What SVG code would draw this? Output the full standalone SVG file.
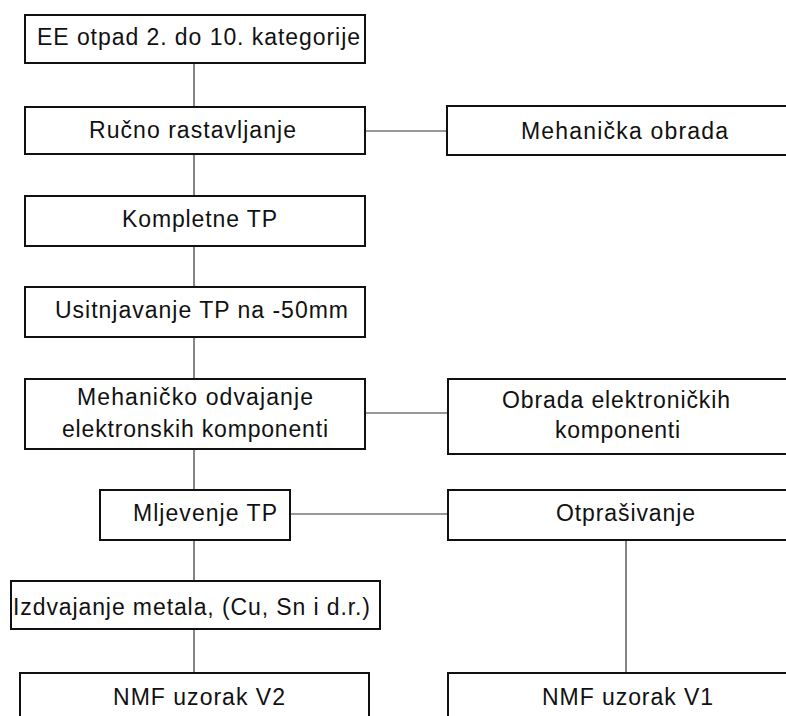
<svg xmlns="http://www.w3.org/2000/svg" width="786" height="716" viewBox="0 0 786 716">
<style>
.box{fill:#fff;stroke:#111;stroke-width:2}
.lbl{font-family:"Liberation Sans",Arial,sans-serif;font-size:23px;fill:#111}
.con{stroke:#333;stroke-width:1.2;fill:none}
</style>
<rect width="786" height="716" fill="#fff"/>
<g id="connectors">
<line class="con" x1="194" y1="63" x2="194" y2="107"/>
<line class="con" x1="365" y1="131" x2="447" y2="131"/>
<line class="con" x1="194" y1="154" x2="194" y2="196"/>
<line class="con" x1="194" y1="246" x2="194" y2="287"/>
<line class="con" x1="194" y1="337" x2="194" y2="379"/>
<line class="con" x1="365" y1="413" x2="448" y2="413"/>
<line class="con" x1="194" y1="449" x2="194" y2="490"/>
<line class="con" x1="290" y1="514" x2="448" y2="514"/>
<line class="con" x1="194" y1="540" x2="194" y2="581"/>
<line class="con" x1="194" y1="629" x2="194" y2="673"/>
<line class="con" x1="626" y1="540" x2="626" y2="673"/>
</g>
<g id="n1"><rect class="box" x="25" y="15" width="340" height="48"/><text class="lbl" x="37" y="45" textLength="323" lengthAdjust="spacing">EE otpad 2. do 10. kategorije</text></g>
<g id="n2"><rect class="box" x="25" y="107" width="340" height="47"/><text class="lbl" x="89" y="138" textLength="207" lengthAdjust="spacing">Ručno rastavljanje</text></g>
<g id="n3"><rect class="box" x="447" y="106" width="360" height="49"/><text class="lbl" x="521" y="139" textLength="207" lengthAdjust="spacing">Mehanička obrada</text></g>
<g id="n4"><rect class="box" x="25" y="196" width="340" height="50"/><text class="lbl" x="122" y="227" textLength="155" lengthAdjust="spacing">Kompletne TP</text></g>
<g id="n5"><rect class="box" x="25" y="287" width="340" height="50"/><text class="lbl" x="55" y="318" textLength="293" lengthAdjust="spacing">Usitnjavanje TP na -50mm</text></g>
<g id="n6"><rect class="box" x="25" y="379" width="340" height="70"/><text class="lbl" x="77" y="405" textLength="236" lengthAdjust="spacing">Mehaničko odvajanje</text><text class="lbl" x="62" y="437" textLength="266" lengthAdjust="spacing">elektronskih komponenti</text></g>
<g id="n7"><rect class="box" x="448" y="379" width="360" height="75"/><text class="lbl" x="502" y="408" textLength="228" lengthAdjust="spacing">Obrada elektroničkih</text><text class="lbl" x="555" y="438" textLength="125" lengthAdjust="spacing">komponenti</text></g>
<g id="n8"><rect class="box" x="100" y="490" width="190" height="50"/><text class="lbl" x="133" y="521" textLength="144" lengthAdjust="spacing">Mljevenje TP</text></g>
<g id="n9"><rect class="box" x="448" y="490" width="360" height="50"/><text class="lbl" x="556" y="521" textLength="139" lengthAdjust="spacing">Otprašivanje</text></g>
<g id="n10"><rect class="box" x="11" y="581" width="369" height="48"/><text class="lbl" x="13" y="615" textLength="357" lengthAdjust="spacing">Izdvajanje metala, (Cu, Sn i d.r.)</text></g>
<g id="n11"><rect class="box" x="20" y="673" width="349" height="60"/><text class="lbl" x="113" y="705" textLength="172" lengthAdjust="spacing">NMF uzorak V2</text></g>
<g id="n12"><rect class="box" x="448" y="673" width="360" height="60"/><text class="lbl" x="542" y="705" textLength="171" lengthAdjust="spacing">NMF uzorak V1</text></g>
</svg>
